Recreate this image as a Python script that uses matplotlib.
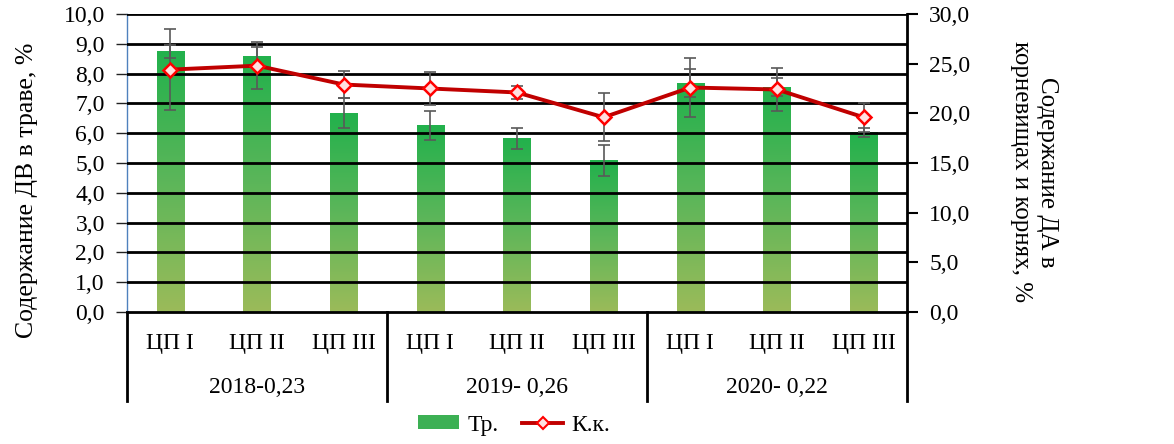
import numpy as np
import matplotlib
matplotlib.use("Agg")
import matplotlib.pyplot as plt
from matplotlib.lines import Line2D
from matplotlib.patches import Patch
from matplotlib.colors import LinearSegmentedColormap

# ---- data ----
sub_labels = ["ЦП I", "ЦП II", "ЦП III"] * 3
group_labels = ["2018-0,23", "2019- 0,26", "2020- 0,22"]
grass = [8.73, 8.59, 6.67, 6.27, 5.83, 5.08, 7.68, 7.54, 6.03]
grass_err = [0.22, 0.29, 0.50, 0.49, 0.35, 0.51, 0.47, 0.30, 0.15]
roots = [24.4, 24.8, 22.9, 22.5, 22.1, 19.6, 22.6, 22.4, 19.6]
roots_err = [4.06, 2.35, 1.34, 1.68, 0.69, 2.42, 3.00, 2.12, 1.45]
left_label = "Содержание ДВ в траве, %"
right_label = "Содержание ДА в\nкорневищах и корнях, %"
legend_labels = ["Тр.", "К.к."]

plt.rcParams['font.family'] = ['Liberation Serif', 'DejaVu Serif']

fig = plt.figure(figsize=(11.74, 4.44), dpi=100)
ax = fig.add_axes([127/1174, 132/444, 780/1174, 298/444])
ax2 = ax.twinx()

x = np.arange(len(grass))
w = 0.315
cmap = LinearSegmentedColormap.from_list("g", ["#9BBB59", "#5CB65A", "#22B14C"])
grad = np.linspace(0, 1, 256).reshape(-1, 1)
for xi, h in zip(x, grass):
    ax.imshow(grad, extent=[xi - w/2, xi + w/2, 0, h], origin='lower',
              aspect='auto', cmap=cmap, zorder=2, interpolation='bilinear')
ax.errorbar(x, grass, yerr=grass_err, fmt='none', ecolor='#595959',
            elinewidth=1.2, capsize=4.5, capthick=1.2, zorder=4)

ax.set_xlim(-0.5, len(grass) - 0.5)
ax.set_ylim(0, 10)
ax.set_yticks(np.arange(0, 10.01, 1))
ax.set_yticklabels([f"{v:.1f}".replace('.', ',') for v in np.arange(0, 10.01, 1)])
for v in np.arange(1, 10.01, 1):
    ax.axhline(v, color='black', lw=2.0, zorder=3)
ax.set_xticks([])

ax.tick_params(axis='y', direction='out', length=8, width=1, color='#222222',
               labelsize=17, pad=8)
ax.spines['left'].set_color('#4F81BD')
ax.spines['left'].set_linewidth(1.0)
ax.spines['top'].set_visible(False)
ax.spines['right'].set_visible(False)
ax.spines['bottom'].set_linewidth(2.0)

ax2.errorbar(x, roots, yerr=roots_err, fmt='none', ecolor='#595959',
             elinewidth=1.2, capsize=4.5, capthick=1.2, zorder=4)
ax2.plot(x, roots, color='#C00000', lw=2.8, marker='D', ms=7, mfc='#FFE0E0',
         mec='#FF0000', mew=1.8, zorder=5)
ax2.set_ylim(0, 30)
ax2.set_yticks(np.arange(0, 30.01, 5))
ax2.set_yticklabels([f"{v:.1f}".replace('.', ',') for v in np.arange(0, 30.01, 5)])
ax2.tick_params(axis='y', direction='out', length=8, width=1.5, color='black',
                labelsize=17, pad=8)
ax2.spines['right'].set_linewidth(2.0)
ax2.spines['top'].set_visible(False)
ax2.spines['left'].set_visible(False)
ax2.spines['bottom'].set_visible(False)

# labels
fig.text(27/1174, 1 - 190/444, left_label, rotation=90, ha='center',
         va='center', fontsize=18.5)
fig.text(1034/1174, 1 - 172/444, right_label, rotation=270, ha='center',
         va='center', fontsize=18, linespacing=1.25)

# two-level category axis
tr = ax.get_xaxis_transform()
for xi, lab in zip(x, sub_labels):
    ax.text(xi, -31/298, lab, transform=tr, ha='center', va='center', fontsize=17)
for gi, lab in enumerate(group_labels):
    ax.text(gi * 3 + 1, -75/298, lab, transform=tr, ha='center', va='center', fontsize=17)
for sx in [-0.5, 2.5, 5.5, 8.5]:
    ax.add_line(Line2D([sx, sx], [0, -89/298], transform=tr, color='black',
                       lw=2.0, clip_on=False))

handles = [Patch(facecolor='#3CB054', edgecolor='none'),
           Line2D([], [], color='#C00000', lw=2.8, marker='D', ms=6,
                  mfc='#FFE0E0', mec='#FF0000', mew=1.5)]
fig.legend(handles, legend_labels, loc='center', bbox_to_anchor=(514/1174, 1 - 425/444),
           ncol=2, frameon=False, fontsize=17, handlelength=1.75, columnspacing=1.0,
           handletextpad=0.35, handleheight=0.5)

fig.savefig("out.png", dpi=100)
